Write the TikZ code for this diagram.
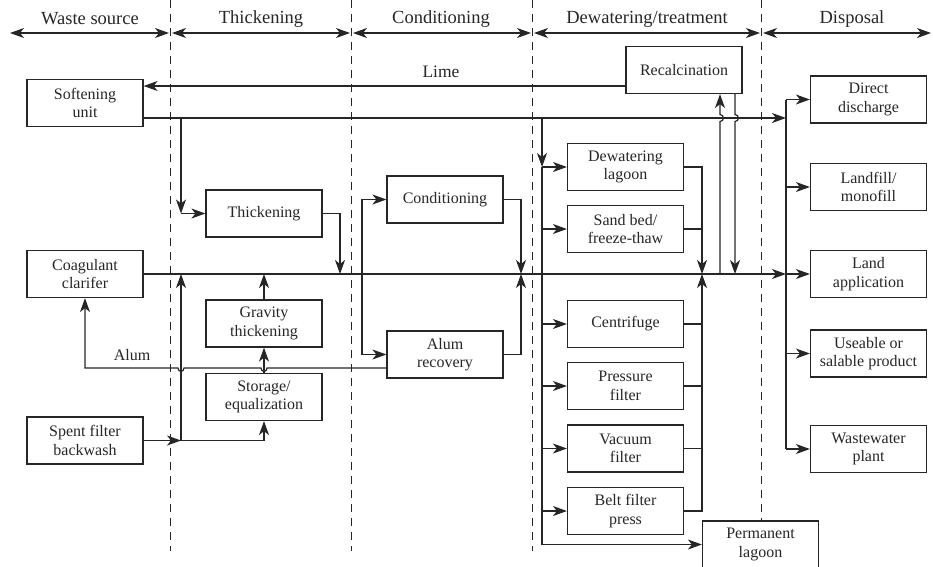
\documentclass[tikz,border=0pt]{standalone}
\usepackage{fontspec}
\setmainfont{Liberation Serif}
\usetikzlibrary{arrows.meta}
\definecolor{lc}{HTML}{262626}
\tikzset{
  box/.style={draw=lc, line width=1.2pt, minimum width=116pt, minimum height=47pt, inner sep=1pt, align=center, font=\fontsize{16}{18.5}\selectfont, text=lc},
  conn/.style={draw=lc, line width=1.2pt},
  tip/.style={Stealth[length=14pt,width=10pt,inset=4pt]},
  arr/.style={conn, -{Stealth[length=14pt,width=10pt,inset=4pt]}},
  harr/.style={conn, {Stealth[length=14pt,width=10pt,inset=4pt]}-{Stealth[length=14pt,width=10pt,inset=4pt]}},
  sep/.style={draw=lc, line width=0.9pt, dash pattern=on 8pt off 6pt},
  hdr/.style={font=\fontsize{18.5}{21}\selectfont, text=lc},
  lbl/.style={font=\fontsize{16}{18}\selectfont, text=lc}
}
\begin{document}
\begin{tikzpicture}[x=1pt,y=-1pt]
\useasboundingbox (0,0) rectangle (933,566);
% separators
\draw[sep] (170,0) -- (170,551);
\draw[sep] (351,0) -- (351,551);
\draw[sep] (532,0) -- (532,551);
\draw[sep] (761,0) -- (761,521);
% header
\node[hdr] (h1) at (90,19) {Waste source};
\node[hdr] (h2) at (261,19) {Thickening};
\node[hdr] (h3) at (441,19) {Conditioning};
\node[hdr] (h4) at (647,19) {Dewatering/treatment};
\node[hdr] (h5) at (852,19) {Disposal};
\coordinate (a0) at (10,33); \coordinate (a1) at (169,33);
\coordinate (b0) at (172,33); \coordinate (b1) at (350,33);
\coordinate (c0) at (353,33); \coordinate (c1) at (531,33);
\coordinate (d0) at (534,33); \coordinate (d1) at (760,33);
\coordinate (e0) at (763,33); \coordinate (e1) at (931,33);
\draw[harr] (a0) -- (a1);
\draw[harr] (b0) -- (b1);
\draw[harr] (c0) -- (c1);
\draw[harr] (d0) -- (d1);
\draw[harr] (e0) -- (e1);
% nodes
\node[box] (soft) at (85,103) {Softening\\unit};
\node[box] (coag) at (85,274) {Coagulant\\clarifer};
\node[box] (spent) at (85,440.5) {Spent filter\\backwash};
\node[box] (thick) at (264,213.5) {Thickening};
\node[box] (grav) at (264,323.5) {Gravity\\thickening};
\node[box] (stor) at (264,397) {Storage/\\equalization};
\node[box] (cond) at (445,199.5) {Conditioning};
\node[box] (alumr) at (445,354.5) {Alum\\recovery};
\node[box] (recal) at (684,70) {Recalcination};
\node[box] (dlag) at (625.5,167) {Dewatering\\lagoon};
\node[box] (sand) at (625.5,229) {Sand bed/\\freeze-thaw};
\node[box] (cent) at (625.5,324) {Centrifuge};
\node[box] (press) at (625.5,386) {Pressure\\filter};
\node[box] (vac) at (625.5,448.5) {Vacuum\\filter};
\node[box] (belt) at (625.5,511) {Belt filter\\press};
\node[box] (perm) at (760.5,544.5) {Permanent\\lagoon};
\node[box] (direct) at (868.5,99.5) {Direct\\discharge};
\node[box] (landf) at (868.5,187) {Landfill/\\monofill};
\node[box] (landa) at (868.5,274) {Land\\application};
\node[box] (use) at (868.5,353.5) {Useable or\\salable product};
\node[box] (wwp) at (868.5,449) {Wastewater\\plant};
% labels
\node[lbl, font=\fontsize{17.5}{20}\selectfont] (lime) at (441,72) {Lime};
\node[lbl] (alum) at (132,355) {Alum};
% key coordinates
\coordinate (s0) at (181,118);
\coordinate (s1) at (181,213.5);
\coordinate (sb) at (181,440.5);
\coordinate (sm) at (181,274);
\coordinate (bus0) at (786,99.5);
\coordinate (bus1) at (786,449);
\coordinate (busS) at (786,118);
\coordinate (busM) at (786,274);
\coordinate (dw0) at (542,118);
\coordinate (dw1) at (542,167);
\coordinate (dw2) at (542,544.5);
\coordinate (cv) at (362,274);
\coordinate (tk) at (340,274);
\coordinate (cm) at (521,274);
\coordinate (dm) at (702,274);
\coordinate (r1) at (720,274);
\coordinate (r2) at (735,274);
\coordinate (al) at (85,368);
% lime line
\draw[arr] (recal.west |- 0,86) -- (soft.east |- 0,86);
% softening line to disposal
\draw[arr] (soft.east |- s0) -- (busS);
\draw[arr] (s0) -- (s1);
\draw[arr] (s1) -- (thick.west);
% main line
\draw[arr] (coag.east) -- (busM);
\draw[arr] (busM) -- (landa.west);
% spent filter
\draw[arr] (spent.east) -- (sb);
\draw[arr] (sb) -| (stor.south);
\draw[arr] (sb) -- (sm);
% thickening
\draw[arr] (thick.east) -| (tk);
\draw[arr] (grav.north) -- (grav.north |- sm);
\draw[arr] (stor.north) -- (grav.south);
% alum line with hops
\draw[arr] (alumr.west |- al) -- (267,368) .. controls (267,372.5) and (261,372.5) .. (261,368)
  -- (184,368) .. controls (184,372.5) and (178,372.5) .. (178,368) -- (al) -- (coag.south);
% conditioning
\draw[arr] (cv) |- (cond.west);
\draw[arr] (cv) |- (alumr.west);
\draw[arr] (cond.east) -| (cm);
\draw[arr] (alumr.east) -| (cm);
% dewatering bus
\draw[arr] (dw0) -- (dw1);
\draw[conn] (dw1) -- (dw2);
\draw[arr] (dw1) -- (dlag.west);
\draw[arr] (dw1 |- sand.west) -- (sand.west);
\draw[arr] (dw1 |- cent.west) -- (cent.west);
\draw[arr] (dw1 |- press.west) -- (press.west);
\draw[arr] (dw1 |- vac.west) -- (vac.west);
\draw[arr] (dw1 |- belt.west) -- (belt.west);
\draw[arr] (dw2) -- (perm.west);
% dewatering collector
\draw[arr] (dlag.east) -| (dm);
\draw[conn] (sand.east) -- (sand.east -| dm);
\draw[conn] (cent.east) -- (cent.east -| dm);
\draw[conn] (press.east) -- (press.east -| dm);
\draw[conn] (vac.east) -- (vac.east -| dm);
\draw[arr] (belt.east) -| (dm);
% recalcination loop with hops
\draw[arr] (r1) -- (720,121.5) .. controls (724.5,121.5) and (724.5,114.5) .. (720,114.5) -- (recal.south -| r1);
\draw[arr] (recal.south -| r2) -- (735,114.5) .. controls (739.5,114.5) and (739.5,121.5) .. (735,121.5) -- (r2);
% disposal bus
\draw[conn] (bus0) -- (bus1);
\draw[arr] (bus0) -- (direct.west);
\draw[arr] (bus0 |- landf.west) -- (landf.west);
\draw[arr] (bus0 |- use.west) -- (use.west);
\draw[arr] (bus1) -- (wwp.west);
\end{tikzpicture}
\end{document}
